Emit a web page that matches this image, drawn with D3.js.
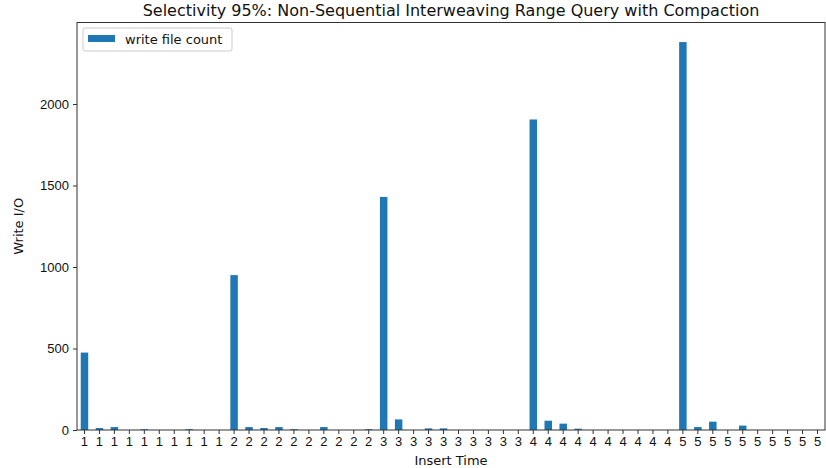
<!DOCTYPE html>
<html>
<head>
<meta charset="utf-8">
<script src="https://cdn.jsdelivr.net/npm/d3@7"></script>
<style>
  html, body { margin: 0; padding: 0; background: #fff; }
  svg { display: block; font-family: "DejaVu Sans", sans-serif; }
</style>
</head>
<body>
<svg id="chart" width="826" height="468"></svg>
<script>
// Insert-time labels: ten inserts per phase, five phases
const insertTimes = [
  1,1,1,1,1,1,1,1,1,1,
  2,2,2,2,2,2,2,2,2,2,
  3,3,3,3,3,3,3,3,3,3,
  4,4,4,4,4,4,4,4,4,4,
  5,5,5,5,5,5,5,5,5,5
];
// Write file count per insert
const writeFileCount = [
  475, 12, 18, 0, 5, 0, 0, 5, 0, 0,
  950, 18, 12, 18, 5, 0, 18, 0, 0, 5,
  1430, 65, 0, 10, 10, 0, 0, 0, 0, 0,
  1905, 57, 39, 8, 0, 0, 0, 0, 0, 0,
  2380, 18, 51, 0, 27, 0, 0, 0, 0, 0
];
const yTicks = [0, 500, 1000, 1500, 2000];
const seriesName = "write file count";
const titleText = "Selectivity 95%: Non-Sequential Interweaving Range Query with Compaction";

const svg = d3.select("#chart");
const m = { left: 77, right: 825, top: 22.5, bottom: 430 };
const barColor = "#1f77b4";
const axisColor = "#333";

const idx = d3.range(writeFileCount.length);
const x = d3.scaleBand().domain(idx).range([m.left, m.right]).paddingInner(0.5).paddingOuter(0.25);
const y = d3.scaleLinear().domain([0, 2500]).range([m.bottom, m.top]);

// Bars
svg.append("g").selectAll("rect").data(idx).join("rect")
  .attr("x", i => x(i))
  .attr("width", x.bandwidth())
  .attr("y", i => y(writeFileCount[i]))
  .attr("height", i => y(0) - y(writeFileCount[i]))
  .attr("fill", barColor);

// Axes
const xAxis = d3.axisBottom(x).tickFormat(i => insertTimes[i]).tickSize(4).tickPadding(3);
const gx = svg.append("g").attr("transform", `translate(0,${m.bottom})`).call(xAxis);
const yAxis = d3.axisLeft(y).tickValues(yTicks).tickFormat(d3.format("d")).tickSize(4).tickPadding(4);
const gy = svg.append("g").attr("transform", `translate(${m.left},0)`).call(yAxis);
[gx, gy].forEach(g => {
  g.select(".domain").remove();
  g.selectAll(".tick line").attr("stroke", axisColor);
  g.selectAll(".tick text").attr("fill", "#111").style("font-size", "13px");
});

// Frame
svg.append("rect")
  .attr("x", m.left).attr("y", m.top)
  .attr("width", m.right - m.left).attr("height", m.bottom - m.top)
  .attr("fill", "none").attr("stroke", axisColor).attr("stroke-width", 1);

// Title and axis labels
const cx = (m.left + m.right) / 2;
svg.append("text").attr("x", cx).attr("y", 16).attr("text-anchor", "middle")
  .style("font-size", "16px").attr("fill", "#111").text(titleText);
svg.append("text").attr("x", cx).attr("y", 465).attr("text-anchor", "middle")
  .style("font-size", "13px").attr("fill", "#111").text("Insert Time");
svg.append("text").attr("transform", `translate(23,${(m.top + m.bottom) / 2}) rotate(-90)`)
  .attr("text-anchor", "middle").style("font-size", "13px").attr("fill", "#111").text("Write I/O");

// Legend
const lg = svg.append("g");
lg.append("rect").attr("x", 83).attr("y", 28).attr("width", 149).attr("height", 23).attr("rx", 2)
  .attr("fill", "#fff").attr("stroke", "#ccc");
lg.append("rect").attr("x", 88).attr("y", 35).attr("width", 27).attr("height", 7).attr("fill", barColor);
lg.append("text").attr("x", 125).attr("y", 44).style("font-size", "13px").attr("fill", "#111").text(seriesName);
</script>
</body>
</html>
